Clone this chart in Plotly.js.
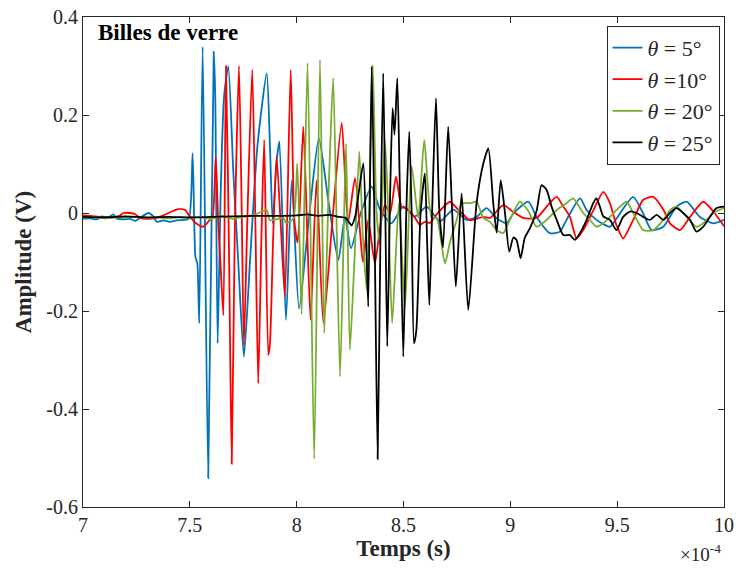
<!DOCTYPE html>
<html>
<head>
<meta charset="utf-8">
<script src="https://cdn.plot.ly/plotly-3.0.1.min.js"></script>
<style>html,body{margin:0;padding:0;background:#fff;}#chart{width:738px;height:570px;}</style>
</head>
<body>
<div id="chart"></div>
<script>
// Time axis in units of 1e-4 s, amplitude in V
const seriesNames = ['<i>θ</i> = 5°', '<i>θ</i> =10°', '<i>θ</i> = 20°', '<i>θ</i> = 25°'];

const t5 = [7.000,7.033,7.064,7.088,7.118,7.142,7.158,7.189,7.220,7.243,7.267,7.306,7.329,7.345,7.376,7.407,7.438,7.468,7.495,7.513,7.526,7.535,7.544,7.560,7.586,7.612,7.619,7.630,7.644,7.660,7.680,7.703,7.727,7.753,7.781,7.816,7.860,7.875,7.888,7.905,7.919,7.950,7.977,8.011,8.060,8.104,8.150,8.195,8.226,8.254,8.300,8.351,8.390,8.444,8.499,8.554,8.608,8.671,8.733,8.796,8.842,8.889,8.936,8.983,9.014,9.084,9.123,9.185,9.232,9.263,9.326,9.357,9.403,9.466,9.497,9.575,9.622,9.661,9.716,9.778,9.825,9.887,9.950,10.000];
const v5 = [-0.012,-0.011,-0.013,-0.007,-0.009,-0.003,-0.011,-0.013,-0.012,-0.016,-0.010,0.000,-0.007,-0.018,-0.015,-0.018,-0.015,-0.014,-0.012,0.122,-0.089,-0.103,-0.225,0.339,-0.541,0.329,0.237,-0.266,0.033,0.237,0.299,0.088,-0.103,-0.293,-0.103,0.135,0.285,0.135,-0.021,0.100,0.146,-0.218,0.067,-0.195,0.000,0.152,0.020,-0.096,-0.008,-0.072,0.000,0.054,0.007,-0.021,0.013,-0.007,0.013,-0.017,0.007,-0.014,-0.008,0.010,-0.011,-0.021,-0.001,0.023,-0.008,-0.041,-0.038,-0.014,0.030,0.006,-0.014,-0.028,-0.011,0.033,-0.001,-0.035,-0.028,0.013,0.023,-0.008,-0.021,-0.014];

const t10 = [7.000,7.033,7.080,7.127,7.173,7.189,7.220,7.243,7.267,7.298,7.345,7.376,7.415,7.446,7.478,7.501,7.532,7.562,7.594,7.606,7.621,7.633,7.643,7.657,7.669,7.684,7.696,7.710,7.730,7.743,7.753,7.770,7.792,7.806,7.820,7.835,7.848,7.867,7.875,7.890,7.906,7.925,7.945,7.972,7.990,8.005,8.031,8.048,8.065,8.093,8.125,8.170,8.211,8.240,8.273,8.295,8.310,8.335,8.366,8.390,8.413,8.437,8.465,8.491,8.515,8.554,8.577,8.600,8.624,8.655,8.717,8.749,8.780,8.811,8.873,8.905,8.967,9.014,9.060,9.123,9.170,9.217,9.248,9.279,9.310,9.341,9.388,9.435,9.466,9.497,9.528,9.575,9.622,9.669,9.716,9.747,9.794,9.841,9.903,9.950,10.000];
const v10 = [-0.005,-0.006,-0.008,-0.010,-0.005,0.000,0.000,-0.002,-0.010,-0.012,-0.010,-0.005,0.003,0.008,0.006,-0.008,-0.022,-0.028,-0.014,-0.010,0.115,-0.020,-0.100,-0.209,0.300,-0.100,-0.512,-0.050,0.300,0.000,-0.270,0.000,0.292,0.000,-0.348,-0.050,0.149,-0.290,-0.266,-0.050,0.115,-0.020,-0.171,0.292,-0.020,-0.060,0.176,-0.020,-0.218,0.067,-0.225,0.000,0.184,-0.020,0.071,-0.030,-0.100,-0.014,-0.103,-0.030,0.016,0.000,0.074,0.013,0.009,-0.010,-0.024,-0.018,-0.020,-0.003,0.023,0.010,-0.003,-0.015,-0.008,-0.010,0.016,0.002,-0.010,-0.010,0.013,0.033,0.013,-0.008,-0.052,-0.035,0.005,0.043,0.020,-0.025,-0.052,-0.014,0.027,0.033,0.007,-0.021,-0.035,-0.008,0.023,0.003,-0.027];

const t20 = [7.000,7.050,7.100,7.150,7.200,7.250,7.300,7.350,7.400,7.450,7.500,7.550,7.600,7.650,7.700,7.750,7.800,7.860,7.875,7.937,7.950,7.984,8.003,8.023,8.051,8.082,8.109,8.129,8.150,8.171,8.203,8.231,8.249,8.270,8.293,8.310,8.328,8.356,8.374,8.390,8.413,8.429,8.447,8.478,8.507,8.538,8.569,8.597,8.632,8.655,8.694,8.717,8.749,8.772,8.811,8.842,8.873,8.905,8.936,8.967,8.998,9.045,9.084,9.123,9.170,9.217,9.263,9.294,9.341,9.372,9.403,9.435,9.466,9.513,9.544,9.575,9.622,9.669,9.716,9.747,9.778,9.825,9.871,9.903,9.950,10.000];
const v20 = [-0.010,-0.008,-0.011,-0.009,-0.010,-0.008,-0.010,-0.009,-0.011,-0.009,-0.010,-0.008,-0.012,-0.006,-0.012,-0.008,-0.004,0.006,-0.015,-0.010,-0.020,-0.012,0.101,-0.207,0.306,-0.502,0.312,-0.245,0.050,0.275,-0.334,0.142,-0.279,-0.100,0.125,-0.050,-0.157,0.302,0.000,-0.062,0.149,0.000,-0.225,0.020,-0.191,0.095,-0.010,0.149,-0.010,-0.010,-0.103,-0.060,-0.014,0.020,0.020,0.023,-0.010,-0.018,-0.035,-0.041,-0.014,0.023,0.004,-0.028,-0.014,0.006,0.020,0.030,0.000,-0.014,-0.028,-0.021,-0.008,0.013,0.023,0.000,-0.035,-0.035,-0.014,0.006,0.013,-0.008,-0.028,-0.021,0.000,0.010];

const t25 = [7.000,7.100,7.200,7.300,7.400,7.500,7.600,7.700,7.800,7.900,8.000,8.050,8.100,8.150,8.200,8.230,8.257,8.275,8.290,8.312,8.325,8.335,8.351,8.365,8.379,8.392,8.405,8.415,8.424,8.438,8.449,8.458,8.471,8.485,8.499,8.513,8.527,8.538,8.549,8.560,8.580,8.600,8.610,8.621,8.637,8.652,8.668,8.685,8.709,8.728,8.745,8.772,8.803,8.842,8.873,8.897,8.920,8.936,8.955,8.975,8.995,9.014,9.029,9.048,9.068,9.092,9.123,9.146,9.170,9.193,9.217,9.248,9.279,9.302,9.326,9.357,9.388,9.403,9.419,9.435,9.466,9.497,9.528,9.560,9.591,9.622,9.653,9.685,9.716,9.747,9.778,9.809,9.841,9.871,9.903,9.934,9.965,10.000];
const v25 = [-0.008,-0.009,-0.007,-0.009,-0.008,-0.009,-0.008,-0.007,-0.006,-0.006,-0.005,-0.003,-0.006,-0.004,-0.008,-0.010,-0.025,-0.005,0.040,0.101,-0.050,-0.191,0.299,-0.050,-0.502,-0.050,0.285,0.000,-0.272,0.050,0.214,0.160,0.275,0.000,-0.293,0.000,0.166,0.000,-0.266,-0.240,0.000,0.081,-0.050,-0.188,0.050,0.234,0.000,-0.070,0.176,0.000,-0.150,0.040,-0.198,0.020,0.100,0.132,0.020,-0.040,0.067,0.000,-0.079,-0.050,-0.055,-0.092,-0.050,-0.031,0.004,0.057,0.047,0.013,-0.014,-0.045,-0.045,-0.055,-0.041,-0.014,0.020,0.030,0.013,-0.007,-0.014,-0.035,-0.008,0.003,0.000,-0.008,-0.014,-0.004,-0.014,0.000,0.010,0.000,-0.014,-0.038,-0.028,-0.008,0.010,0.013];

const xTickVals = [7, 7.5, 8, 8.5, 9, 9.5, 10];
const xTickText = ['7', '7.5', '8', '8.5', '9', '9.5', '10'];
const yTickVals = [-0.6, -0.4, -0.2, 0, 0.2, 0.4];
const yTickText = ['-0.6', '-0.4', '-0.2', '0', '0.2', '0.4'];

const colors = ['#0072BD', '#FF0000', '#77AC30', '#000000'];
const times = [t5, t10, t20, t25];
const vals = [v5, v10, v20, v25];

const FONT = 'Liberation Serif, Times New Roman, serif';
const AX = '#262626';

const traces = times.map((t, i) => ({
  x: t, y: vals[i], type: 'scatter', mode: 'lines', name: seriesNames[i],
  line: {color: colors[i], width: 1.8, shape: 'spline', smoothing: 0.6}
}));

const axisCommon = {
  showgrid: false, zeroline: false, showline: true, mirror: 'ticks',
  linecolor: AX, linewidth: 1, ticks: 'inside', ticklen: 6, tickcolor: AX, tickwidth: 1,
  tickfont: {family: FONT, size: 20, color: AX}
};

const layout = {
  width: 738, height: 570,
  margin: {l: 83, r: 14, t: 17, b: 63},
  paper_bgcolor: '#fff', plot_bgcolor: '#fff',
  showlegend: true,
  xaxis: Object.assign({}, axisCommon, {
    range: [7, 10], tickmode: 'array', tickvals: xTickVals, ticktext: xTickText,
    title: {text: '<b>Temps (s)</b>', font: {family: FONT, size: 23, color: AX}, standoff: 4}
  }),
  yaxis: Object.assign({}, axisCommon, {
    range: [-0.6, 0.4], tickmode: 'array', tickvals: yTickVals, ticktext: yTickText,
    title: {text: '<b>Amplitude (V)</b>', font: {family: FONT, size: 23, color: AX}, standoff: 8}
  }),
  legend: {
    x: 0.993, xanchor: 'right', y: 0.982, yanchor: 'top',
    bgcolor: '#fff', bordercolor: AX, borderwidth: 1,
    font: {family: FONT, size: 22, color: AX}, tracegroupgap: 0
  },
  annotations: [
    {xref: 'paper', yref: 'paper', x: 0.021, y: 0.968, xanchor: 'left', yanchor: 'middle',
     text: '<b>Billes de verre</b>', showarrow: false, font: {family: FONT, size: 23, color: '#000'}},
    {xref: 'paper', yref: 'paper', x: 0.999, y: -0.094, xanchor: 'right', yanchor: 'middle',
     text: '×10<sup>-4</sup>', showarrow: false, font: {family: FONT, size: 19, color: AX}}
  ]
};

Plotly.newPlot('chart', traces, layout, {displayModeBar: false, staticPlot: true});
</script>
</body>
</html>
